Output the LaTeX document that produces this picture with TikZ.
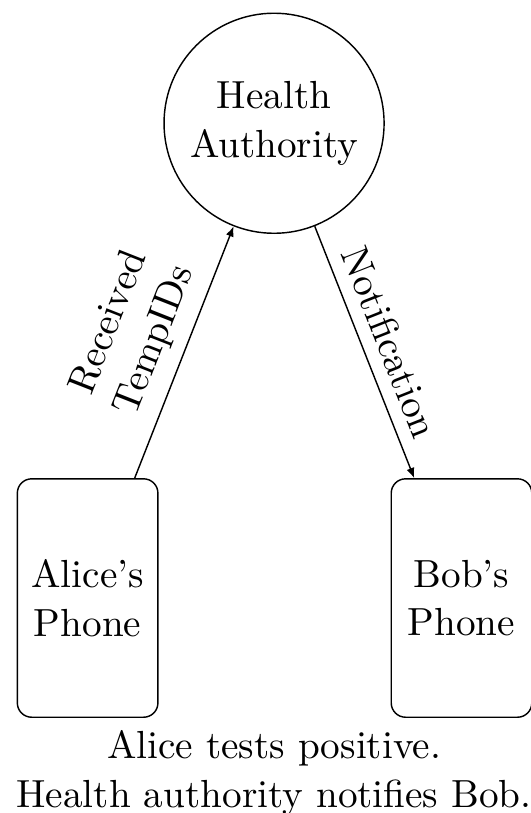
\documentclass[tikz,border=0pt,11pt]{standalone}
\usepackage{tikz}
\usetikzlibrary{arrows.meta,positioning}
\tikzset{
  >={Latex[length=1mm,width=0.8mm]},
  authority/.style={circle,draw,minimum size=21.6mm,align=center,inner sep=1pt},
  phone/.style={draw,rounded corners=4pt,minimum width=13.8mm,minimum height=23.4mm,align=center},
  flow/.style={->,draw},
  tag/.style={align=center,sloped,above},
}

\begin{document}
\begin{tikzpicture}
        \useasboundingbox (0,0) rectangle (5.21,7.98);
        \node[authority] (ha) at (2.69,6.77) {Health\\Authority};
        \node[phone] (alice) at (0.86,2.11) {Alice's\\Phone};
        \node[phone] (bob) at (4.53,2.11) {Bob's\\Phone};
        \draw[flow] (alice) -- node[tag]{Received\\TempIDs} (ha);
        \draw[flow] (ha) -- node[tag]{Notification} (bob);
        \node[align=center] (caption) at (2.69,0.39) {Alice tests positive.\\Health authority notifies Bob.};
      \end{tikzpicture}
\end{document}
